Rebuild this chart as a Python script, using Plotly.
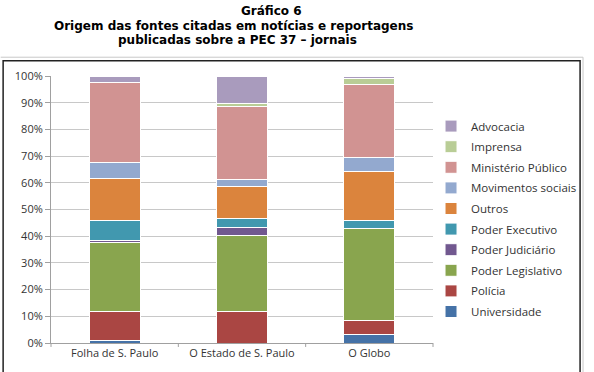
import plotly.graph_objects as go

categories = ["Folha de S. Paulo", "O Estado de S. Paulo", "O Globo"]

# series (bottom -> top), values in %
universidade = [1.0, 0.0, 3.1]
policia = [10.7, 11.7, 5.2]
legislativo = [25.9, 28.4, 34.5]
judiciario = [0.9, 3.0, 0.0]
executivo = [7.3, 3.4, 3.0]
outros = [15.8, 12.3, 18.5]
movimentos = [6.1, 2.6, 5.1]
ministerio = [30.0, 27.1, 27.5]
imprensa = [0.0, 1.3, 2.0]
advocacia = [2.3, 10.2, 1.1]

series = [
    ("Universidade", universidade, "#4572A7"),
    ("Polícia", policia, "#AA4643"),
    ("Poder Legislativo", legislativo, "#89A54E"),
    ("Poder Judiciário", judiciario, "#71588F"),
    ("Poder Executivo", executivo, "#4198AF"),
    ("Outros", outros, "#DB843D"),
    ("Movimentos sociais", movimentos, "#93A9CF"),
    ("Ministério Público", ministerio, "#D19392"),
    ("Imprensa", imprensa, "#B9CD96"),
    ("Advocacia", advocacia, "#A99BBD"),
]

FONT = "Open Sans"

fig = go.Figure()
n = len(series)
for i, (name, vals, col) in enumerate(series):
    fig.add_trace(go.Bar(
        x=categories, y=vals, name=name, legendgroup=name,
        legendrank=1000 + (n - i),
        marker=dict(color=col, line=dict(color="white", width=1)),
    ))

W, H = 594, 372
L, R, T, B = 51, 156, 76, 26
pw, ph = W - L - R, H - T - B

def px(x):
    return (x - L) / pw

def py(y):
    return (H - B - y) / ph

fig.update_layout(
    width=W, height=H,
    margin=dict(l=L, r=R, t=T, b=B),
    barmode="stack", bargap=0.6,
    paper_bgcolor="white", plot_bgcolor="white",
    font=dict(family=FONT, size=11, color="#333333"),
    showlegend=True,
    legend=dict(
        x=px(436), y=py(112), xanchor="left", yanchor="top",
        traceorder="grouped", tracegroupgap=1.6,
        font=dict(family=FONT, size=11.5, color="#333333"),
        itemwidth=30, bgcolor="rgba(0,0,0,0)",
    ),
    xaxis=dict(
        showline=True, linecolor="#A0A0A0", linewidth=1,
        ticks="", tickfont=dict(family=FONT, size=11, color="#333333"),
        showgrid=False,
    ),
    yaxis=dict(
        range=[0, 100], dtick=10, ticksuffix="%",
        showline=True, linecolor="#A0A0A0", linewidth=1,
        ticks="outside", ticklen=5, tickcolor="#A0A0A0",
        gridcolor="#C8C8C8", gridwidth=1,
        tickfont=dict(family=FONT, size=11, color="#333333"),
        zeroline=False,
    ),
)

# x-axis category boundary tick marks
shapes = []
for i in range(4):
    xp = i / 3
    shapes.append(dict(type="line", xref="paper", yref="paper",
                       x0=xp, x1=xp, y0=0, y1=-4 / ph,
                       line=dict(color="#A0A0A0", width=1)))
# chart frame
shapes.append(dict(type="line", xref="paper", yref="paper",
                   x0=px(0), x1=px(590), y0=py(57), y1=py(57),
                   line=dict(color="#C8C8C8", width=1)))
shapes.append(dict(type="line", xref="paper", yref="paper",
                   x0=px(590), x1=px(590), y0=py(57), y1=py(380),
                   line=dict(color="#C8C8C8", width=1)))
shapes.append(dict(type="rect", xref="paper", yref="paper",
                   x0=px(2.5), x1=px(587), y0=py(380), y1=py(60.5),
                   line=dict(color="#222222", width=1.5)))
fig.update_layout(shapes=shapes)

title_lines = [
    ("Gráfico 6", 274.5, 10),
    ("Origem das fontes citadas em notícias e reportagens", 236, 25),
    ("publicadas sobre a PEC 37 – jornais", 240, 40),
]
for txt, cx, cy in title_lines:
    fig.add_annotation(text="<b>" + txt + "</b>", xref="paper", yref="paper",
                       x=px(cx), y=py(cy), xanchor="center", yanchor="middle",
                       showarrow=False,
                       font=dict(family="DejaVu Sans", size=12, color="black"))

fig.write_html("out.html")
